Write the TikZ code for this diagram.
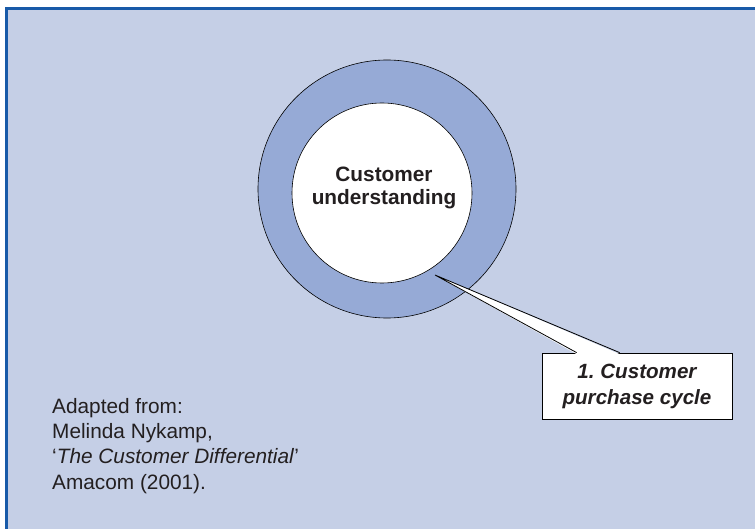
\documentclass[tikz,border=0pt]{standalone}
\usepackage{fontspec}
\setmainfont{Liberation Sans}
\usetikzlibrary{calc}
\frenchspacing
\definecolor{bgblue}{RGB}{197,207,230}
\definecolor{ringblue}{RGB}{150,170,214}
\definecolor{frameblue}{RGB}{24,90,168}
\definecolor{inkgray}{RGB}{35,31,32}
\tikzset{
  lbl/.style={font=\fontsize{20.8}{23}\selectfont\bfseries, text=inkgray, align=center, inner sep=0pt},
  calloutbox/.style={draw=black, line width=0.8pt, fill=white, minimum width=190pt, minimum height=66pt, inner sep=0pt, align=center, text=inkgray, font=\fontsize{20.6}{26}\selectfont\bfseries\itshape},
  srctext/.style={font=\fontsize{20.8}{25.3}\selectfont, text=inkgray, align=left, inner sep=0pt},
  circ/.style={draw=black, line width=0.6pt}
}
\begin{document}
\begin{tikzpicture}[x=1pt,y=-1pt]
\useasboundingbox (0,0) rectangle (755,529);
\fill[white] (0,0) rectangle (755,529);
\fill[bgblue] (5,7) rectangle (755,529);
\draw[frameblue, line width=2.5pt] (6.3,529) |- (755,8.3);
% rings
\fill[ringblue] (387,189) circle[radius=129];
\draw[circ] (387,189) circle[radius=129];
\fill[white] (382,193) circle[radius=90];
\draw[circ] (382,193) circle[radius=90];
\node[lbl] (core) at (384,187.5) {Customer\\understanding};
% callout
\node[calloutbox] (box) at (637,386) {1. Customer\\purchase cycle};
\coordinate (tip) at (435,275);
\fill[white] ($(box.north west)+(35,1.5)$) -- (tip) -- ($(box.north west)+(78,1.5)$) -- cycle;
\draw[line width=0.8pt, line join=miter] ($(box.north west)+(35,0)$) -- (tip) -- ($(box.north west)+(78,0)$);
% source
\node[srctext, anchor=north west] (src) at (52,398) {Adapted from:\\Melinda Nykamp,\\‘\textit{The Customer Differential}’\\Amacom (2001).};
\end{tikzpicture}
\end{document}
